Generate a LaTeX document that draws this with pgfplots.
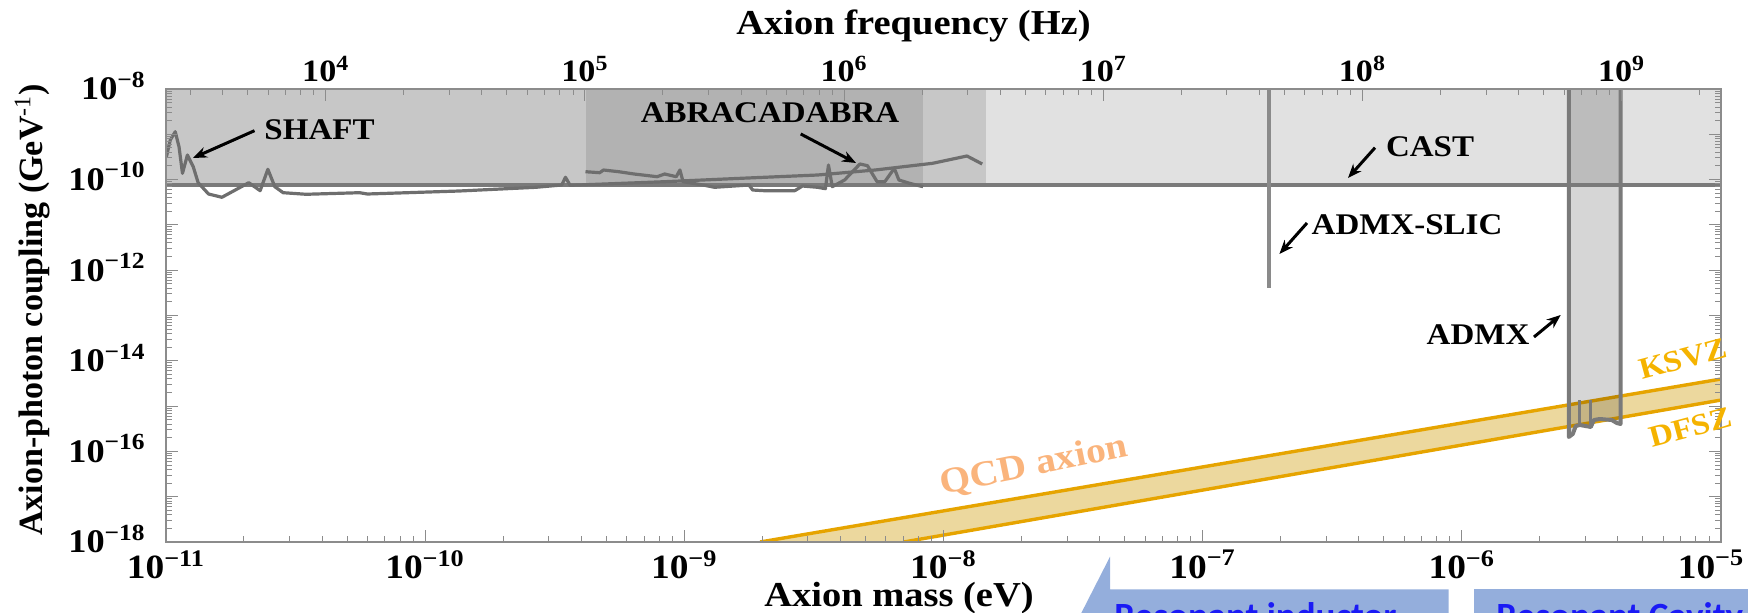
\documentclass[border=0pt]{standalone}
\usepackage{fontspec}
\setmainfont{Liberation Serif}
\newfontfamily\carlito{Carlito}
\usepackage{pgfplots}
\pgfplotsset{compat=1.18}
\usetikzlibrary{arrows.meta}
\definecolor{castfill}{HTML}{E1E1E1}
\definecolor{linegray}{HTML}{7A7A7A}
\definecolor{curvegray}{HTML}{6E6E6E}
\definecolor{slicgray}{HTML}{8A8A8A}
\definecolor{bandfill}{HTML}{ECD89E}
\definecolor{bandline}{HTML}{E6A400}
\definecolor{qcdtext}{HTML}{FAB47C}
\definecolor{ksvztext}{HTML}{F5B300}
\definecolor{boxblue}{HTML}{94AEDC}
\definecolor{textblue}{HTML}{1A1AF5}
\definecolor{framegray}{HTML}{8C8C8C}
\makeatletter
\newcommand\buildminor[3]{%
  \global\let#1\@empty
  \foreach \ee in {#2,...,#3}{%
    \foreach \kk in {2,...,9}{%
      \ifx#1\@empty\xdef#1{\kk e\ee}\else\xdef#1{#1,\kk e\ee}\fi
    }%
  }%
}
\makeatother
\buildminor\xminor{-11}{-6}
\buildminor\yminor{-18}{-9}
\buildminor\fminor{3}{9}
\newcommand\xlab[1]{10\textsuperscript{−#1}}
\newcommand\ylab[1]{10\smash{\textsuperscript{−#1}}}
\newcommand\flab[1]{10\textsuperscript{#1}}
\begin{document}%
\begin{tikzpicture}
\useasboundingbox (-83pt,-35.5pt) rectangle (791pt,271pt);
\begin{axis}[
  at={(0pt,0pt)}, anchor=south west,
  scale only axis, width=777.5pt, height=226.5pt,
  xmode=log, ymode=log,
  xmin=1e-11, xmax=1e-5, ymin=1e-18, ymax=1e-8,
  axis on top, no markers,
  xtick pos=left, ytick pos=both, yticklabel pos=left,
  xtick={1e-11,1e-10,1e-9,1e-8,1e-7,1e-6,1e-5},
  xticklabels={\xlab{11},\xlab{10},\xlab{9},\xlab{8},\xlab{7},\xlab{6},\kern-9pt\xlab{5}},
  minor xtick/.expanded={\xminor},
  ytick={1e-18,1e-17,1e-16,1e-15,1e-14,1e-13,1e-12,1e-11,1e-10,1e-9,1e-8},
  yticklabels={{\ylab{18}},{},{\ylab{16}},{},{\ylab{14}},{},{\ylab{12}},{},{\ylab{10}},{},{\ylab{8}}},
  minor ytick/.expanded={\yminor},
  major tick length=6pt, minor tick length=3pt,
  tick style={draw=framegray, line width=0.5pt},
  axis line style={draw=framegray, line width=0.6pt},
  xticklabel style={font=\fontsize{17}{20}\selectfont\bfseries, xscale=1.1, anchor=north, inner sep=0pt, yshift=-4pt},
  yticklabel style={font=\fontsize{16.5}{20}\selectfont\bfseries, xscale=1.1, anchor=east, inner sep=0pt, xshift=-9pt},
]
% CAST excluded region
\addplot[draw=none, fill=castfill] coordinates {(1e-11,7.6e-11) (1e-5,7.6e-11) (1e-5,1e-8) (1e-11,1e-8)} -- cycle;
% SHAFT region
\addplot[draw=none, fill=black, fill opacity=0.115] coordinates {(1e-11,7.6e-11) (1.458e-8,7.6e-11) (1.458e-8,1e-8) (1e-11,1e-8)} -- cycle;
% ABRACADABRA region
\addplot[draw=none, fill=black, fill opacity=0.10] coordinates {(4.157e-10,7.6e-11) (8.33e-9,7.6e-11) (8.33e-9,1e-8) (4.157e-10,1e-8)} -- cycle;
% QCD axion band
\addplot[draw=none, fill=bandfill] coordinates {(1.96e-9,1e-18) (1e-5,3.96e-15) (1e-5,1.36e-15) (7.03e-9,1e-18)} -- cycle;
\addplot[bandline, line width=1.7pt] coordinates {(1.96e-9,1e-18) (1e-5,3.96e-15)};
\addplot[bandline, line width=1.7pt] coordinates {(7.03e-9,1e-18) (1e-5,1.36e-15)};
% ADMX region
\addplot[draw=none, fill=black, fill opacity=0.16] coordinates {(2.587e-6,1e-8) (2.587e-6,2.08e-16) (2.68e-6,2.42e-16) (2.753e-6,3.64e-16) (2.853e-6,3.83e-16) (3.147e-6,3.46e-16) (3.232e-6,4.93e-16) (3.408e-6,5.19e-16) (3.791e-6,4.93e-16) (3.963e-6,4.23e-16) (4.096e-6,4.03e-16) (4.096e-6,1e-8)} -- cycle;
% CAST line
\addplot[linegray, line width=2pt] coordinates {(1e-11,7.6e-11) (1e-5,7.6e-11)};
% ADMX-SLIC
\addplot[slicgray, line width=2pt] coordinates {(1.807e-7,1e-8) (1.807e-7,4.05e-13)};
% ADMX outline
\addplot[linegray, line width=2pt, line join=round] coordinates {(2.587e-6,1e-8) (2.587e-6,2.08e-16) (2.68e-6,2.42e-16) (2.753e-6,3.64e-16) (2.853e-6,3.83e-16) (3.147e-6,3.46e-16) (3.232e-6,4.93e-16) (3.408e-6,5.19e-16) (3.791e-6,4.93e-16) (3.963e-6,4.23e-16) (4.096e-6,4.03e-16) (4.096e-6,1e-8)};
\addplot[linegray, line width=1.6pt] coordinates {(2.853e-6,1.36e-15) (2.853e-6,3.83e-16)};
\addplot[linegray, line width=1.6pt] coordinates {(3.147e-6,1.36e-15) (3.147e-6,3.46e-16)};
% SHAFT
\addplot[curvegray, line width=1.6pt, line join=round] coordinates {(1.004e-11,3.20e-10) (1.039e-11,7.48e-10) (1.086e-11,1.141e-9) (1.123e-11,5.32e-10) (1.158e-11,1.377e-10) (1.210e-11,3.49e-10) (1.274e-11,1.93e-10) (1.331e-11,8.55e-11) (1.460e-11,4.81e-11) (1.644e-11,4.07e-11) (2.087e-11,8.55e-11) (2.309e-11,5.69e-11) (2.473e-11,1.688e-10) (2.630e-11,6.97e-11) (2.833e-11,5.14e-11) (3.474e-11,4.74e-11) (5.588e-11,5.14e-11) (5.984e-11,4.81e-11) (1.353e-10,5.60e-11) (2.671e-10,6.76e-11) (3.365e-10,7.60e-11) (3.48e-10,1.124e-10) (3.626e-10,7.48e-11) (8.40e-10,8.99e-11) (1.658e-9,1.069e-10) (3.27e-9,1.263e-10) (5.45e-9,1.629e-10) (9.08e-9,2.29e-10) (1.232e-8,3.32e-10) (1.411e-8,2.21e-10)};
% ABRACADABRA
\addplot[curvegray, line width=1.6pt, line join=round] coordinates {(4.157e-10,1.494e-10) (4.716e-10,1.420e-10) (4.879e-10,1.629e-10) (5.588e-10,1.494e-10) (6.402e-10,1.329e-10) (7.855e-10,1.159e-10) (8.40e-10,1.329e-10) (9.31e-10,1.159e-10) (9.62e-10,1.629e-10) (9.89e-10,8.99e-11) (1.181e-9,7.60e-11) (1.308e-9,6.76e-11) (1.775e-9,7.60e-11) (1.836e-9,5.89e-11) (2.034e-9,5.69e-11) (2.669e-9,5.69e-11) (2.858e-9,7.22e-11) (3.27e-9,6.76e-11) (3.503e-9,6.30e-11) (3.60e-9,2.10e-10) (3.724e-9,6.97e-11) (4.154e-9,9.80e-11) (4.759e-9,2.21e-10) (5.09e-9,2.03e-10) (5.544e-9,8.99e-11) (5.94e-9,8.99e-11) (6.46e-9,1.776e-10) (6.73e-9,9.80e-11) (7.40e-9,8.29e-11) (8.34e-9,6.97e-11)};
\end{axis}
\begin{axis}[
  at={(0pt,0pt)}, anchor=south west,
  scale only axis, width=777.5pt, height=226.5pt,
  xmode=log, xmin=2418, xmax=2.418e9, ymin=0, ymax=1,
  hide y axis, axis line style={draw=none},
  xtick pos=right, xticklabel pos=right,
  xtick={1e4,1e5,1e6,1e7,1e8,1e9},
  xticklabels={\flab{4},\flab{5},\flab{6},\flab{7},\flab{8},\flab{9}},
  minor xtick/.expanded={\fminor},
  major tick length=6pt, minor tick length=3pt,
  tick style={draw=framegray, line width=0.5pt},
  xticklabel style={font=\fontsize{15.5}{18}\selectfont\bfseries, xscale=1.1, anchor=south, inner sep=0pt, yshift=3.6pt},
]
\end{axis}
\begin{scope}[x=0.5pt,y=-0.5pt,shift={(-166,-542)}]
\node[font=\fontsize{17.5}{20}\selectfont\bfseries, xscale=1.1, anchor=base] at (913.5,35) {Axion frequency (Hz)};
\node[font=\fontsize{17.5}{20}\selectfont\bfseries, xscale=1.1, anchor=base] at (899,606.7) {Axion mass (eV)};
\node[font=\fontsize{17}{20}\selectfont\bfseries, rotate=90] at (32.5,310) {Axion-photon coupling (GeV\textsuperscript{\mdseries -1})};
\begin{scope}[every node/.style={font=\fontsize{15}{18}\selectfont\bfseries, xscale=1.1, inner sep=0pt}]
\node at (319.5,130) {SHAFT};
\node at (770,113) {ABRACADABRA};
\node at (1430,147) {CAST};
\node at (1407,225) {ADMX-SLIC};
\node at (1478,335) {ADMX};
\end{scope}
\begin{scope}[line width=1.5pt, -{Stealth[length=7pt,width=5.5pt]}]
\draw (254.5,130.7) -- (193,158);
\draw (800.7,134) -- (856,163);
\draw (1375,147.7) -- (1348,178);
\draw (1307,223) -- (1279.4,254);
\draw (1534,337) -- (1560.7,315);
\end{scope}
\node[text=qcdtext, font=\fontsize{18}{20}\selectfont\bfseries, rotate=11.5, xscale=1.1] at (1034,466) {QCD axion};
\node[text=ksvztext, font=\fontsize{15}{18}\selectfont\bfseries, rotate=15, xscale=1.1] at (1683,359) {KSVZ};
\node[text=ksvztext, font=\fontsize{15}{18}\selectfont\bfseries, rotate=15, xscale=1.1] at (1690.6,427.5) {DFSZ};
\fill[boxblue] (1110,556.7) -- (1110,589.3) -- (1448.5,589.3) -- (1448.5,613) -- (1081.3,613) -- cycle;
\fill[boxblue] (1473.8,589.3) rectangle (1748,613);
\node[anchor=base west, text=textblue, font=\carlito\bfseries\fontsize{18.5}{20}\selectfont, inner sep=0pt] at (1114,629) {Resonant inductor};
\node[anchor=base west, text=textblue, font=\carlito\bfseries\fontsize{18.5}{20}\selectfont, inner sep=0pt] at (1496,629) {Resonant Cavity};
\end{scope}
\end{tikzpicture}%
\end{document}
